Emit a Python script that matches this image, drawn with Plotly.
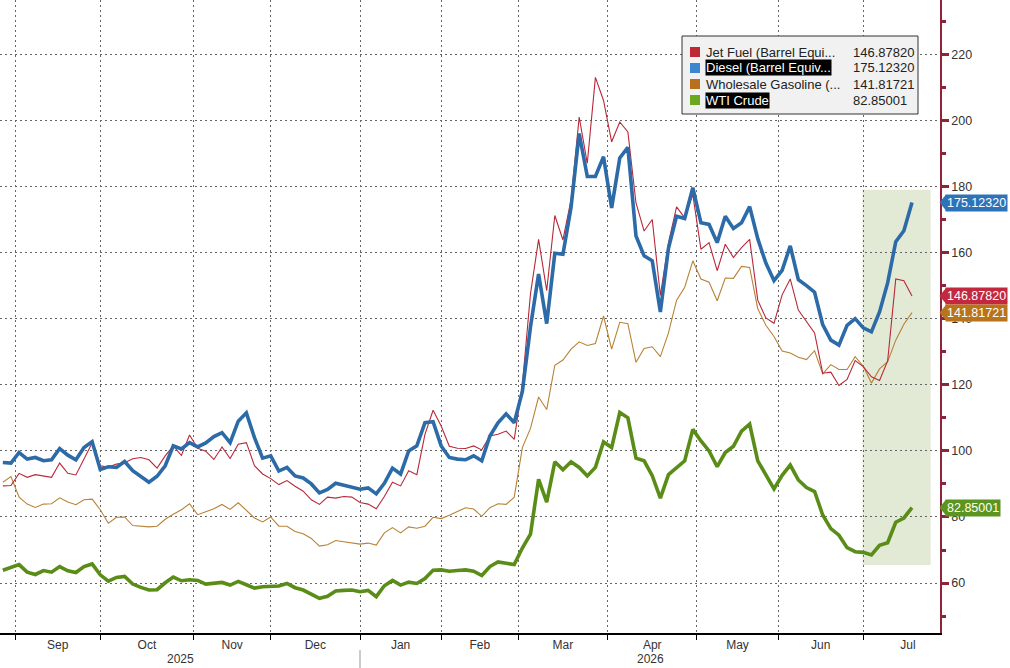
import pandas as pd
import plotly.graph_objects as go

# trading calendar of the chart: weekends and exchange holidays removed (Good Friday kept)
HOLIDAYS = ["2025-09-01", "2025-11-27", "2025-12-25", "2026-01-01", "2026-01-19",
            "2026-02-16", "2026-05-25", "2026-06-19", "2026-07-03"]
tdays = pd.bdate_range("2025-08-26", "2026-08-31", freq="C", holidays=HOLIDAYS)
dates = tdays[1:226:2]  # every second session, Aug 27 2025 .. Jul 20 2026

# values (USD per barrel equivalent)
diesel = [
    96.5, 96.3, 99.5, 97.5, 98.0, 97.0, 97.3, 100.7, 98.7, 97.3, 101.0,
    102.8, 94.4, 95.2, 95.0, 96.8, 94.0, 92.2, 90.5, 92.3, 95.5,
    101.5, 100.6, 102.5, 101.2, 102.4, 104.3, 105.5, 102.5, 109.0, 111.5,
    104.0, 97.8, 98.5, 93.9, 95.0, 92.4, 91.8, 90.0, 87.3, 88.3,
    90.2, 89.6, 89.0, 88.4, 88.8, 87.0, 90.2, 94.8, 93.0, 100.0,
    101.5, 108.5, 108.8, 101.5, 98.0, 97.5, 97.3, 98.5, 97.0, 104.5,
    108.5, 111.2, 108.5, 118.0, 137.5, 153.5, 138.5, 159.8, 159.5, 173.7,
    196.0, 183.0, 183.0, 189.0, 173.5, 188.6, 191.8, 165.0, 159.0, 157.5,
    142.0, 161.3, 171.0, 170.3, 179.6, 169.0, 168.5, 163.0, 171.0, 167.3,
    169.0, 173.9, 164.2, 156.8, 151.5, 154.6, 162.0, 151.8, 150.0, 148.0,
    138.2, 133.5, 132.0, 138.0, 140.0, 137.2, 136.0, 142.0, 150.8, 163.3, 166.6, 175.1232,
]
jet_fuel = [
    89.4, 89.5, 93.2, 92.0, 92.8, 92.3, 92.0, 96.3, 93.2, 92.7, 97.7,
    102.4, 95.5, 95.1, 96.0, 96.4, 97.6, 98.0, 97.3, 94.8, 98.5,
    101.5, 98.6, 104.8, 100.8, 99.9, 97.4, 101.2, 97.7, 102.0, 102.5,
    95.5, 93.0, 91.6, 89.8, 91.0, 89.3, 87.8, 85.2, 83.8, 86.0,
    85.7, 86.2, 86.0, 84.4, 83.9, 82.5, 86.2, 90.5, 89.4, 94.0,
    92.8, 105.0, 112.3, 107.5, 101.4, 100.8, 100.7, 101.5, 100.3, 104.5,
    105.0, 106.0, 103.5, 120.0, 147.5, 164.0, 148.5, 171.2, 163.8, 176.0,
    201.0, 187.0, 213.0, 206.0, 193.5, 199.5, 196.5, 175.0, 166.5, 170.0,
    147.0, 163.0, 173.8, 170.5, 177.5, 161.0, 163.0, 154.5, 162.5, 158.5,
    161.5, 164.0, 145.6, 140.2, 138.6, 147.2, 152.0, 142.6, 139.2, 135.7,
    123.5, 123.8, 119.8, 121.6, 127.3, 125.5, 122.4, 121.3, 127.2, 152.0, 151.5, 146.8782,
]
gasoline = [
    90.5, 92.2, 86.0, 83.9, 82.9, 83.9, 84.0, 85.8, 84.5, 83.7, 85.2,
    85.4, 82.2, 78.1, 79.9, 80.0, 77.4, 77.2, 77.0, 77.2, 79.3,
    80.8, 82.2, 84.0, 80.7, 81.6, 82.5, 83.8, 82.3, 84.3, 82.0,
    79.7, 78.5, 80.0, 77.2, 77.2, 75.6, 74.9, 73.5, 71.2, 71.6,
    72.9, 72.5, 72.2, 71.8, 72.1, 71.5, 75.2, 76.8, 75.2, 77.0,
    76.6, 77.2, 79.9, 79.5, 80.5, 81.6, 82.8, 82.4, 80.2, 82.8,
    84.0, 83.8, 86.0, 101.0, 106.8, 116.3, 112.5, 125.9, 127.5, 130.8,
    133.0, 131.9, 132.5, 140.8, 130.8, 138.9, 138.5, 126.8, 131.0, 131.5,
    128.5, 135.7, 145.6, 149.5, 157.5, 152.0, 151.0, 145.4, 152.3, 152.2,
    155.8, 155.5, 143.0, 138.0, 134.6, 130.2, 129.6, 128.3, 127.6, 130.3,
    123.3, 126.1, 124.6, 124.6, 128.5, 125.6, 120.5, 124.8, 127.0, 133.5, 138.3, 141.81721,
]
wti = [
    63.9, 64.8, 65.6, 63.3, 62.6, 63.8, 63.3, 65.0, 63.7, 63.2, 65.0,
    65.8, 62.5, 60.6, 61.7, 62.0, 59.7, 58.7, 57.9, 58.0, 60.1,
    61.8, 60.7, 61.0, 60.8, 59.7, 60.0, 60.2, 59.4, 60.5, 59.5,
    58.5, 58.9, 59.1, 59.1, 59.9, 58.6, 57.9, 56.7, 55.4, 56.0,
    57.6, 57.8, 57.9, 57.4, 57.8, 55.9, 59.2, 60.8, 59.4, 60.3,
    59.9, 61.4, 63.9, 64.0, 63.6, 63.8, 64.0, 63.6, 62.3, 65.0,
    66.4, 66.0, 65.6, 70.6, 74.8, 91.4, 84.5, 96.7, 94.3, 96.7,
    95.0, 92.4, 95.0, 102.7, 101.0, 111.6, 110.0, 97.8, 97.0, 92.5,
    85.7, 92.8, 95.0, 97.0, 106.5, 103.0, 100.0, 95.2, 99.5, 101.4,
    106.0, 108.1, 97.0, 93.0, 88.5, 92.6, 95.7, 91.2, 88.9, 87.7,
    80.6, 76.5, 74.5, 70.7, 69.5, 69.3, 68.5, 71.4, 72.2, 78.4, 79.7, 82.85001,
]

series_names = ["Jet Fuel (Barrel Equi...", "Diesel (Barrel Equiv...",
                "Wholesale Gasoline (...", "WTI Crude"]
last_labels = ["146.87820", "175.12320", "141.81721", "82.85001"]
month_names = ["Sep", "Oct", "Nov", "Dec", "Jan", "Feb", "Mar", "Apr", "May", "Jun", "Jul"]
year_names = ["2025", "2026"]
y_ticks = [60, 80, 100, 120, 140, 160, 180, 200, 220]

JET_C = "#B8283A"
DSL_C = "#2C6BA8"
GAS_C = "#B98236"
WTI_C = "#5A8C18"
BOX_C = ["#C3283F", "#2E72B8", "#B8741A", "#5C9420"]
SQ_C = ["#BE2832", "#3C86CF", "#B8701C", "#6AA81F"]
AXIS_C = "#8E2438"
FONT = "Arial, Liberation Sans, sans-serif"

W, H = 1010, 668
ML, MR, MT, MB = 0, 70, 0, 35
PW, PH = W - ML - MR, H - MT - MB


def at(pos):
    # position on the session axis, fractional sessions allowed
    i = int(pos)
    return tdays[i] + pd.Timedelta(days=pos - i)


def px(x):
    return x / PW


def py(y):
    return 1 - y / PH


first_idx = [int(tdays.searchsorted(d)) for d in pd.date_range("2025-09-01", "2026-08-01", freq="MS")]
grid_days = [tdays[i] for i in first_idx[:-1]]
label_days = [at((a + b) / 2) for a, b in zip(first_idx[:-1], first_idx[1:])]
start_pos, end_pos = 0.3, 231.9
jan_pos = first_idx[4]

fig = go.Figure()
fig.add_trace(go.Scatter(x=dates, y=gasoline, mode="lines", line=dict(color=GAS_C, width=1.1)))
fig.add_trace(go.Scatter(x=dates, y=jet_fuel, mode="lines", line=dict(color=JET_C, width=1.1)))
fig.add_trace(go.Scatter(x=dates, y=diesel, mode="lines", line=dict(color=DSL_C, width=3.6)))
fig.add_trace(go.Scatter(x=dates, y=wti, mode="lines", line=dict(color=WTI_C, width=3.6)))

# highlighted window
fig.add_shape(type="rect", xref="x", yref="y", x0=at(212.8), x1=at(229.6), y0=65.5, y1=179,
              fillcolor="#E2EAD5", line_width=0, layer="below")

# last value tags on the right
last_vals = [jet_fuel[-1], diesel[-1], gasoline[-1], wti[-1]]
for v, lab, c in zip(last_vals, last_labels, BOX_C):
    fig.add_annotation(xref="paper", yref="y", x=px(945), y=v, xanchor="left", yanchor="middle",
                       text=lab, showarrow=False, bgcolor=c, borderpad=1,
                       font=dict(family=FONT, size=12.5, color="white"))
    fig.add_shape(type="path", xref="paper", yref="y", line_width=0, fillcolor=c,
                  path=f"M {px(939.5)},{v} L {px(946)},{v + 2.4} L {px(946)},{v - 2.4} Z")

# legend box
fig.add_shape(type="rect", xref="paper", yref="paper", x0=px(682), x1=px(918), y0=py(114), y1=py(36),
              fillcolor="#F1F1F1", line=dict(color="#333333", width=1))
for k, (name, lab, c) in enumerate(zip(series_names, last_labels, SQ_C)):
    yc = 52 + 16 * k
    fig.add_shape(type="rect", xref="paper", yref="paper", x0=px(690), x1=px(700),
                  y0=py(yc + 5), y1=py(yc - 5), fillcolor=c, line_width=0)
    hl = k in (1, 3)
    fig.add_annotation(xref="paper", yref="paper", x=px(705), y=py(yc), xanchor="left", yanchor="middle",
                       text=name, showarrow=False, borderpad=0,
                       bgcolor="black" if hl else None,
                       font=dict(family=FONT, size=13, color="white" if hl else "#222222"))
    fig.add_annotation(xref="paper", yref="paper", x=px(851), y=py(yc), xanchor="left", yanchor="middle",
                       text=lab, showarrow=False, font=dict(family=FONT, size=13, color="#222222"))

# year labels and divider under the month labels
for name, a, b in zip(year_names, [start_pos, jan_pos], [jan_pos, end_pos]):
    fig.add_annotation(xref="x", yref="paper", x=at((a + b) / 2), y=py(659), text=name, showarrow=False,
                       yanchor="middle", font=dict(family=FONT, size=12, color="#333333"))
fig.add_shape(type="line", xref="x", yref="paper", x0=tdays[jan_pos], x1=tdays[jan_pos],
              y0=py(650), y1=py(668), line=dict(color="#999999", width=1))

fig.update_layout(
    width=W, height=H,
    margin=dict(l=ML, r=MR, t=MT, b=MB),
    paper_bgcolor="white", plot_bgcolor="white",
    showlegend=False, hovermode=False,
    font=dict(family=FONT, size=12, color="#333333"),
)
fig.update_xaxes(
    type="date",
    range=[at(start_pos), at(end_pos)],
    rangebreaks=[dict(bounds=["sat", "mon"]), dict(values=HOLIDAYS)],
    tickmode="array", tickvals=label_days, ticktext=month_names,
    ticks="", showgrid=False,
    showline=True, linecolor="black", linewidth=1.5,
    tickfont=dict(family=FONT, size=12, color="#333333"),
    minor=dict(tickmode="array", tickvals=grid_days, ticks="outside", ticklen=5,
               tickcolor="black", showgrid=True, gridcolor="#666666",
               griddash="2px,3px", gridwidth=1),
    zeroline=False,
)
fig.update_yaxes(
    side="right",
    range=[44.9, 236.4],
    tickmode="array", tickvals=y_ticks,
    showgrid=True, gridcolor="#666666", griddash="2px,3px", gridwidth=1,
    showline=True, linecolor=AXIS_C, linewidth=1.5,
    ticks="outside", ticklen=7, tickwidth=3, tickcolor=AXIS_C,
    minor=dict(dtick=10, tick0=0, ticks="outside", ticklen=4, tickcolor=AXIS_C, showgrid=False),
    tickfont=dict(family=FONT, size=12.5, color="#333333"),
    zeroline=False,
)

# the page's default body margin would push the fixed-size figure off the window
fig.write_html("out.html", config={"displayModeBar": False},
               post_script="document.body.style.margin='0px';")
